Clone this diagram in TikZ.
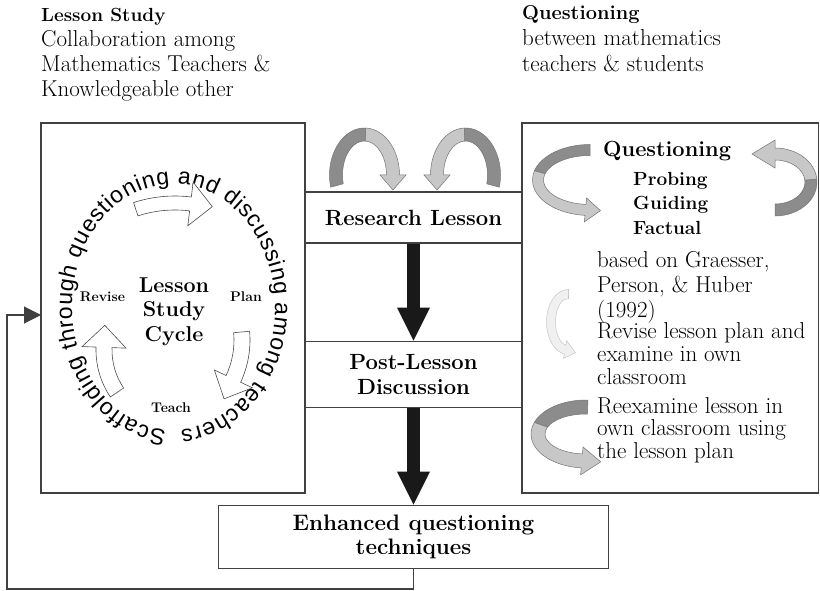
\documentclass[tikz,border=0pt]{standalone}
\usepackage{fontspec}
\newfontfamily\ringfamily{Liberation Sans}
\usetikzlibrary{arrows.meta,positioning,decorations.text}

\definecolor{ribdark}{gray}{0.55}
\definecolor{riblight}{gray}{0.78}
\newcommand{\ringfont}{\fontsize{23}{26}\ringfamily}

% curved band arrow: center, x radius, y radius, start, switch, end angle,
% half width, half head width, head length
\newcommand{\ribbon}[9]{%
  \pgfmathsetmacro\rdir{(#6>#4) ? 1 : -1}%
  \pgfmathsetmacro\rtx{0-(\rdir)*(#2)*sin(#6)}%
  \pgfmathsetmacro\rty{(\rdir)*(#3)*cos(#6)}%
  \pgfmathsetmacro\rtn{veclen(\rtx,\rty)}%
  \pgfmathsetmacro\tipx{(#2)*cos(#6)+(#9)*\rtx/\rtn}%
  \pgfmathsetmacro\tipy{(#3)*sin(#6)+(#9)*\rty/\rtn}%
  \pgfmathsetmacro\rxo{#2+#7}\pgfmathsetmacro\ryo{#3+#7}%
  \pgfmathsetmacro\rxi{#2-#7}\pgfmathsetmacro\ryi{#3-#7}%
  \pgfmathsetmacro\rxh{#2+#8}\pgfmathsetmacro\ryh{#3+#8}%
  \pgfmathsetmacro\rxk{#2-#8}\pgfmathsetmacro\ryk{#3-#8}%
  \begin{scope}[shift={(#1)}]
    \path[ribback] ({\rxo*cos(#4)},{\ryo*sin(#4)}) arc[start angle=#4, end angle=#5, x radius=\rxo, y radius=\ryo]
      -- ({\rxi*cos(#5)},{\ryi*sin(#5)}) arc[start angle=#5, end angle=#4, x radius=\rxi, y radius=\ryi] -- cycle;
    \path[ribfront] ({\rxo*cos(#5)},{\ryo*sin(#5)}) arc[start angle=#5, end angle=#6, x radius=\rxo, y radius=\ryo]
      -- ({\rxh*cos(#6)},{\ryh*sin(#6)}) -- (\tipx,\tipy) -- ({\rxk*cos(#6)},{\ryk*sin(#6)})
      -- ({\rxi*cos(#6)},{\ryi*sin(#6)}) arc[start angle=#6, end angle=#5, x radius=\rxi, y radius=\ryi] -- cycle;
  \end{scope}}

\begin{document}
\begin{tikzpicture}[
    x=1pt, y=-1pt,
    every node/.style={text=black},
    frame/.style={draw=black!75, line width=1.1pt, inner sep=0pt},
    boxtext/.style={font=\fontsize{22}{25}\selectfont\bfseries, align=center},
    bodytext/.style={font=\fontsize{23}{24}\selectfont, align=left, inner sep=0pt},
    steplabel/.style={font=\fontsize{14}{16}\selectfont\bfseries, inner sep=0pt},
    bigarrow/.style={line width=13pt, black!90, -{Triangle[length=33pt,width=33pt,line width=0pt]}},
    feedback/.style={draw=black!75, line width=1.1pt, -{Triangle[length=17pt,width=17pt]}},
    ribback/.style={fill=ribdark, draw=black!55, line width=0.5pt},
    ribfront/.style={fill=riblight, draw=black!55, line width=0.5pt}
]
    \useasboundingbox (0,0) rectangle (820,591);

    % Headings (base = last line)
    \node[bodytext, font=\fontsize{23}{25.3}\selectfont, anchor=base west] (lshead) at (41,97)
        {{\fontsize{19}{25.3}\selectfont\bfseries Lesson Study}\\Collaboration among\\Mathematics Teachers \&\\Knowledgeable other};
    \node[bodytext, font=\fontsize{23}{26}\selectfont, anchor=base west] (qhead) at (522,72)
        {{\fontsize{20}{26}\selectfont\bfseries Questioning}\\between mathematics\\teachers \& students};

    % Boxes
    \node[frame, minimum width=264pt, minimum height=370pt] (cycle) at (173,308) {};
    \node[frame, minimum width=296.5pt, minimum height=370pt] (quest) at (670.25,308) {};
    \node[frame, boxtext, minimum width=217pt, minimum height=51pt] (research) at (413.5,217.5) {Research Lesson};
    \node[frame, boxtext, minimum width=217pt, minimum height=66pt, below=97pt of research] (post) {Post-Lesson\\Discussion};
    \node[frame, boxtext, font=\fontsize{22.4}{24}\selectfont\bfseries, minimum width=390pt, minimum height=63pt,
        below=97pt of post] (enhanced) {Enhanced questioning\\techniques};

    \draw[bigarrow] (research) -- (post);
    \draw[bigarrow] (post) -- (enhanced);

    \coordinate (loopcorner) at (7,589);
    \coordinate (loopin) at (41,315);
    \draw[feedback] (enhanced.south) |- (loopcorner) |- (loopin);

    % Lesson study cycle
    \path[decorate, decoration={text along path, text align=fit to path,
        text={|\ringfont|Scaffolding through questioning and discussing among teachers}},
        shift={(173.5,307)}] ({101.5*cos(94)},{123*sin(94)}) arc[start angle=94, end angle=446, x radius=101.5, y radius=123];
    \node[anchor=base, align=center, inner sep=0pt, font=\fontsize{21.5}{24.5}\selectfont\bfseries] (lsc) at (174,341)
        {Lesson\\Study\\Cycle};
    \foreach \x/\y/\lab in {102.5/301/Revise, 246/301/Plan, 171/412/Teach}
        \node[steplabel, anchor=base] (cyc\lab) at (\x,\y) {\lab};
    \begin{scope}[ribback/.style={}, ribfront/.style={fill=white, draw=black!70, line width=0.6pt}]
        \ribbon{175,330}{127}{127}{252}{252}{277}{7}{22}{22}
        \ribbon{150,340}{92}{92}{-5}{-5}{25}{8}{21}{22}
        \ribbon{180,350}{76}{76}{146}{146}{182}{8}{22}{22}
    \end{scope}

    % Research lesson loops
    \ribbon{364.5,175}{28.5}{40.5}{165}{272}{360}{6.5}{13}{15}
    \ribbon{465.5,175}{28.5}{40.5}{15}{-92}{-180}{6.5}{13}{15}

    % Questioning
    \ribbon{590,180}{52}{30}{270}{195}{95}{5.5}{12}{15}
    \ribbon{775,182}{36}{28}{90}{-5}{-90}{6}{14}{23}
    \node[anchor=base west, inner sep=0pt, font=\fontsize{21.8}{25}\selectfont\bfseries] (qtitle) at (603,157) {Questioning};
    \node[anchor=base west, inner sep=0pt, align=left, font=\fontsize{19}{25}\selectfont\bfseries] (qtypes) at (633,235)
        {Probing\\Guiding\\Factual};
    \node[bodytext, font=\fontsize{23}{25}\selectfont, anchor=base west] (graesser) at (597,317)
        {based on Graesser,\\Person, \& Huber\\(1992)};
    \begin{scope}[ribfront/.style={fill=gray!12, draw=gray!45, line width=0.5pt}]
        \ribbon{568,322}{17}{28}{272}{272}{100}{4.5}{9}{11}
    \end{scope}
    \node[bodytext, font=\fontsize{23}{23}\selectfont, anchor=base west] (revise) at (597,384)
        {Revise lesson plan and\\examine in own\\classroom};
    \ribbon{586,434}{48}{27}{272}{200}{95}{7}{14}{19}
    \node[bodytext, font=\fontsize{23}{22.5}\selectfont, anchor=base west] (reexamine) at (597,458)
        {Reexamine lesson in\\own classroom using\\the lesson plan};
\end{tikzpicture}
\end{document}
